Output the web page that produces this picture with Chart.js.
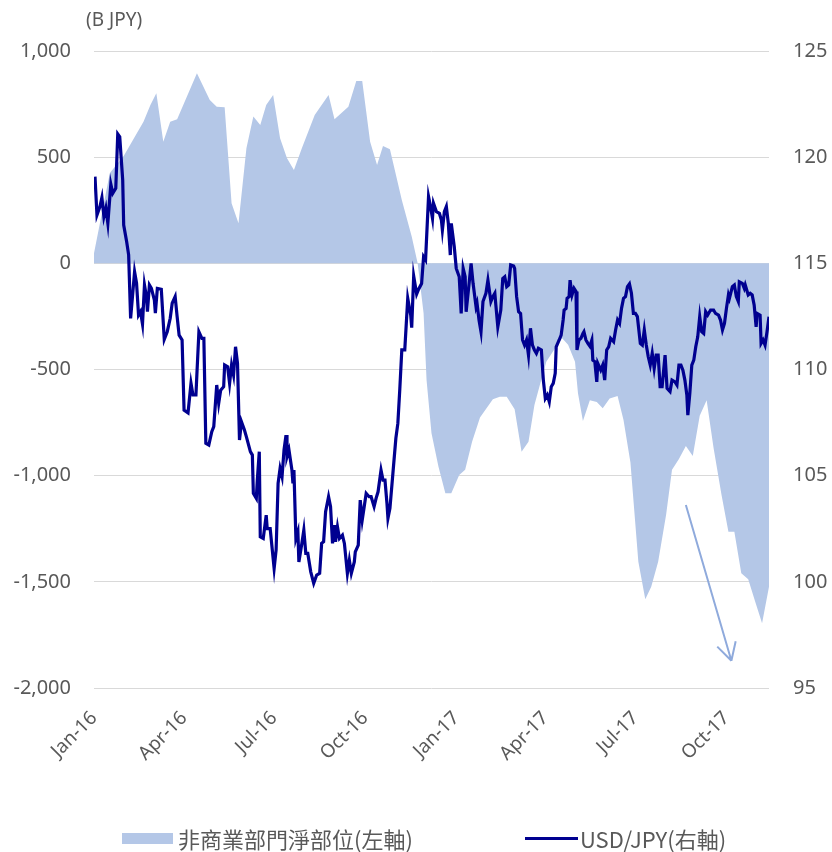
<!DOCTYPE html>
<html>
<head>
<meta charset="utf-8">
<script src="https://cdn.jsdelivr.net/npm/chart.js@4.4.0/dist/chart.umd.min.js"></script>
<style>
  html, body { margin: 0; padding: 0; background: #fff; }
  #wrap { position: relative; width: 832px; height: 852px; }
  #legend {
    position: absolute; left: 122px; top: 824px; height: 28px;
    display: flex; align-items: center;
    font-family: "Noto Sans CJK TC", "Noto Sans", sans-serif; font-size: 22px; color: #595959;
  }
  .item { display: flex; align-items: center; }
  .item:first-child { width: 403px; }
  .swatch { width: 51px; height: 11px; margin-right: 5px; }
  .stroke { width: 53px; height: 3px; margin-right: 2px; }
</style>
</head>
<body>
<div id="wrap">
  <canvas id="chart" width="832" height="852"></canvas>
  <div id="legend"></div>
</div>
<script>
// x positions are days counted from 1 Jan 2016
const tickDay = [0, 91, 182, 274, 366, 456, 547, 639];
const tickLabel = ['Jan-16', 'Apr-16', 'Jul-16', 'Oct-16', 'Jan-17', 'Apr-17', 'Jul-17', 'Oct-17'];

// non-commercial net position, B JPY (left axis), weekly
const posDay = [
  0, 16, 30, 50, 57, 63, 70, 77, 84, 104,
  117, 124, 132, 139, 146, 154, 161, 168, 174, 181,
  188, 195, 202, 210, 223, 237, 243, 257, 265, 271,
  279, 286, 292, 299, 311, 321, 327, 333, 336, 341,
  348, 355, 361, 369, 375, 382, 390, 403, 410, 417,
  425, 432, 439, 445, 450, 457, 467, 473, 479, 486,
  489, 494, 501, 508, 514, 521, 529, 535, 542, 550,
  557, 563, 570, 578, 584, 591, 598, 605, 612, 619,
  626, 634, 641, 647, 654, 661, 668, 675, 682
];
const posValue = [
  47, 425, 505, 667, 746, 801, 573, 667, 678, 895,
  769, 738, 735, 283, 189, 542, 691, 652, 746, 793,
  589, 495, 440, 542, 699, 793, 678, 738, 859, 859,
  573, 463, 553, 537, 298, 126, 0, -235, -549, -800,
  -957, -1083, -1083, -997, -972, -840, -726, -640, -628, -628,
  -687, -887, -840, -667, -581, -463, -392, -353, -384, -463,
  -612, -742, -645, -653, -683, -636, -625, -738, -938, -1405,
  -1582, -1523, -1405, -1185, -972, -922, -860, -907, -718, -645,
  -870, -1090, -1264, -1264, -1459, -1488, -1593, -1695, -1523
];

// USD/JPY (right axis)
const usdDay = [
  1, 3, 6, 8, 10, 12, 14, 17, 19, 22,
  24, 26, 29, 30, 33, 35, 37, 41, 43, 45,
  47, 49, 51, 53, 54, 56, 58, 61, 62, 64,
  68, 71, 74, 77, 79, 82, 84, 86, 89, 91,
  95, 98, 100, 103, 104, 106, 109, 111, 113, 116,
  119, 121, 124, 126, 128, 131, 132, 135, 137, 139,
  141, 143, 145, 147, 149, 152, 154, 158, 160, 161,
  164, 165, 167, 168, 171, 174, 175, 178, 182, 184,
  186, 188, 190, 192, 194, 195, 197, 200, 201, 202,
  204, 206, 207, 210, 212, 214, 216, 219, 222, 225,
  228, 230, 232, 234, 237, 239, 241, 243, 244, 246,
  248, 251, 253, 256, 258, 260, 263, 264, 267, 269,
  271, 273, 275, 278, 280, 283, 285, 287, 290, 292,
  294, 296, 297, 299, 302, 305, 307, 309, 311, 314,
  317, 320, 321, 323, 326, 328, 331, 333, 335, 338,
  340, 342, 343, 346, 349, 351, 352, 354, 356, 358,
  360, 361, 364, 366, 369, 371, 373, 375, 376, 379,
  381, 383, 386, 387, 389, 391, 393, 396, 398, 401,
  403, 405, 406, 408, 411, 413, 415, 417, 419, 421,
  424, 425, 427, 429, 431, 433, 435, 437, 439, 441,
  443, 445, 447, 449, 452, 454, 456, 458, 460, 462,
  464, 466, 467, 470, 472, 474, 475, 477, 478, 480,
  481, 483, 485, 487, 488, 490, 492, 494, 495, 497,
  499, 501, 503, 504, 506, 508, 509, 512, 514, 516,
  518, 520, 522, 525, 527, 529, 531, 533, 535, 537,
  539, 541, 543, 545, 547, 549, 552, 554, 556, 558,
  560, 562, 564, 566, 568, 570, 572, 574, 577, 579,
  582, 584, 587, 589, 591, 593, 595, 597, 599, 600,
  602, 604, 606, 608, 610, 612, 614, 616, 618, 620,
  623, 626, 628, 631, 633, 635, 637, 639, 641, 642,
  645, 647, 649, 651, 652, 655, 657, 658, 661, 663,
  665, 667, 669, 670, 673, 674, 676, 678, 680, 682
];
const usdJpy = [
  119.08, 117.27, 117.67, 118.10, 117.20, 117.60, 116.88, 118.73, 118.30, 118.53,
  121.09, 120.96, 118.92, 116.80, 116.02, 115.40, 112.41, 114.60, 114.06, 112.56,
  112.72, 112.14, 113.98, 113.43, 112.72, 113.98, 113.82, 113.27, 112.65, 113.82,
  113.78, 111.42, 111.78, 112.41, 113.12, 113.43, 112.49, 111.62, 111.39, 108.09,
  107.96, 109.35, 108.80, 108.80, 109.82, 111.78, 111.47, 111.47, 106.52, 106.44,
  107.07, 107.31, 109.27, 108.41, 109.03, 109.19, 110.21, 110.13, 109.35, 110.21,
  109.74, 111.07, 110.29, 106.68, 107.54, 107.15, 106.83, 106.13, 105.97, 104.17,
  103.93, 104.79, 106.13, 102.12, 102.04, 103.14, 102.51, 102.51, 100.63, 101.50,
  104.64, 105.34, 104.95, 106.21, 106.91, 105.89, 106.21, 105.26, 104.64, 105.26,
  102.04, 102.36, 100.94, 101.81, 102.44, 101.34, 101.34, 100.47, 99.93, 100.32,
  100.40, 101.81, 101.89, 103.30, 104.01, 103.54, 101.81, 102.67, 101.89, 102.59,
  102.04, 102.20, 101.81, 100.40, 101.02, 100.40, 100.94, 101.41, 101.73, 103.85,
  102.91, 103.54, 104.17, 104.01, 104.01, 103.54, 103.93, 104.24, 105.26, 104.79,
  104.79, 103.69, 102.99, 103.46, 105.11, 106.76, 107.46, 109.10, 110.92, 110.92,
  113.35, 112.56, 111.97, 114.40, 113.55, 113.78, 114.05, 115.31, 115.16, 118.14,
  117.67, 117.12, 117.83, 117.43, 117.35, 117.04, 116.57, 117.43, 117.67, 116.88,
  115.39, 116.88, 115.78, 114.76, 114.37, 112.64, 114.76, 114.37, 112.72, 114.06,
  115.00, 114.06, 112.96, 113.12, 112.33, 111.78, 113.20, 113.59, 114.21, 113.20,
  113.43, 113.59, 113.04, 112.01, 112.80, 114.29, 114.37, 113.90, 113.98, 114.92,
  114.87, 114.76, 113.43, 112.72, 112.64, 111.39, 111.15, 111.39, 110.68, 111.94,
  111.15, 110.92, 110.76, 111.00, 110.92, 109.50, 108.64, 108.80, 108.48, 109.19,
  109.35, 109.82, 111.07, 111.39, 111.62, 112.33, 112.80, 112.88, 113.35, 113.43,
  114.21, 113.51, 113.82, 113.67, 110.92, 111.39, 111.47, 111.70, 111.78, 111.39,
  111.23, 111.10, 111.39, 110.44, 110.37, 109.42, 110.29, 109.97, 110.21, 109.50,
  110.92, 111.07, 111.47, 111.31, 111.86, 112.33, 112.17, 112.88, 113.35, 113.43,
  113.90, 114.03, 113.59, 112.64, 112.64, 112.49, 111.23, 111.15, 111.86, 111.15,
  110.60, 110.21, 110.76, 110.05, 110.68, 110.68, 109.19, 109.19, 110.68, 109.11,
  108.96, 109.50, 109.42, 109.27, 110.21, 110.21, 109.97, 109.50, 108.80, 107.85,
  108.88, 110.21, 110.44, 111.07, 111.54, 112.49, 111.78, 111.70, 112.72, 112.56,
  112.80, 112.80, 112.64, 112.56, 112.33, 111.86, 112.17, 112.88, 113.51, 113.35,
  113.90, 113.98, 113.43, 113.20, 114.13, 114.06, 113.82, 113.98, 113.51, 113.59,
  113.51, 113.04, 112.01, 112.64, 112.56, 111.23, 111.39, 111.15, 111.78, 112.49
];

// hand-drawn arrow note: [day, B JPY]
const arrowFrom = [598, -1138];
const arrowTo = [644, -1872];

const GREY = '#595959';
const tickFont = { family: '"Noto Sans", sans-serif', size: 20 };

const unitLabel = {
  id: 'unitLabel',
  afterDraw(chart) {
    const { ctx, chartArea } = chart;
    ctx.save();
    ctx.fillStyle = GREY;
    ctx.font = '19px "Noto Sans", sans-serif';
    ctx.textBaseline = 'middle';
    ctx.fillText('(B JPY)', chartArea.left - 8, chartArea.top - 30);
    ctx.restore();
  }
};

const arrowNote = {
  id: 'arrowNote',
  afterDatasetsDraw(chart) {
    const { ctx, scales: { x, y } } = chart;
    const x0 = x.getPixelForValue(arrowFrom[0]), y0 = y.getPixelForValue(arrowFrom[1]);
    const x1 = x.getPixelForValue(arrowTo[0]), y1 = y.getPixelForValue(arrowTo[1]);
    const ang = Math.atan2(y1 - y0, x1 - x0);
    ctx.save();
    ctx.strokeStyle = '#8FAADC';
    ctx.lineWidth = 2;
    ctx.beginPath();
    ctx.moveTo(x0, y0);
    ctx.lineTo(x1, y1);
    [-0.5, 0.5].forEach(a => {
      ctx.moveTo(x1, y1);
      ctx.lineTo(x1 - 20 * Math.cos(ang + a), y1 - 20 * Math.sin(ang + a));
    });
    ctx.stroke();
    ctx.restore();
  }
};

const ctx = document.getElementById('chart').getContext('2d');
const chart = new Chart(ctx, {
  type: 'line',
  data: {
    datasets: [
      {
        label: '非商業部門淨部位(左軸)',
        data: posDay.map((d, i) => ({ x: d, y: posValue[i] })),
        yAxisID: 'y',
        backgroundColor: '#B4C7E7',
        borderWidth: 0,
        fill: 'origin',
        pointRadius: 0,
        tension: 0,
        order: 2,
      },
      {
        label: 'USD/JPY(右軸)',
        data: usdDay.map((d, i) => ({ x: d, y: usdJpy[i] })),
        yAxisID: 'y1',
        borderColor: '#000090',
        borderWidth: 3.2,
        fill: false,
        pointRadius: 0,
        tension: 0,
        order: 1,
      }
    ]
  },
  options: {
    responsive: false,
    animation: false,
    layout: { padding: { top: 51, left: 0, right: 0, bottom: 0 } },
    plugins: { legend: { display: false }, tooltip: { enabled: false } },
    scales: {
      x: {
        type: 'linear',
        min: 0,
        max: 682,
        afterBuildTicks: s => { s.ticks = tickDay.map(v => ({ value: v })); },
        afterFit: s => { s.height = 164; },
        grid: { display: false },
        border: { display: false },
        ticks: {
          autoSkip: false, minRotation: 45, maxRotation: 45, padding: 11,
          color: GREY, font: { family: '"Noto Sans", sans-serif', size: 19 },
          callback: v => tickLabel[tickDay.indexOf(v)]
        }
      },
      y: {
        position: 'left',
        min: -2000,
        max: 1000,
        afterFit: s => { s.width = 94; },
        grid: { color: '#D9D9D9', lineWidth: 1, drawTicks: false },
        border: { display: false },
        ticks: { stepSize: 500, padding: 23, color: GREY, font: tickFont,
          callback: v => v.toLocaleString('en-US') }
      },
      y1: {
        position: 'right',
        min: 95,
        max: 125,
        afterFit: s => { s.width = 63; },
        grid: { display: false, drawTicks: false },
        border: { display: false },
        ticks: { stepSize: 5, padding: 24, color: GREY, font: tickFont }
      }
    }
  },
  plugins: [unitLabel, arrowNote]
});

// legend built from the datasets
const legend = document.getElementById('legend');
chart.data.datasets.forEach(ds => {
  const item = document.createElement('div');
  item.className = 'item';
  const mark = document.createElement('span');
  if (ds.fill) {
    mark.className = 'swatch';
    mark.style.background = ds.backgroundColor;
  } else {
    mark.className = 'stroke';
    mark.style.background = ds.borderColor;
  }
  const text = document.createElement('span');
  text.textContent = ds.label;
  item.appendChild(mark);
  item.appendChild(text);
  legend.appendChild(item);
});
</script>
</body>
</html>
